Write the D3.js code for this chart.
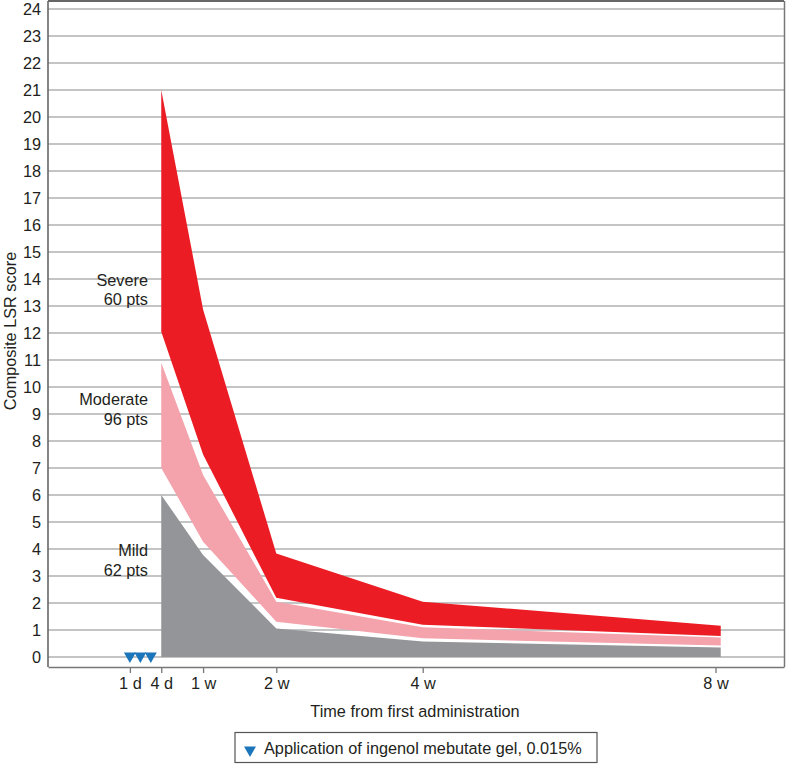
<!DOCTYPE html>
<html>
<head>
<meta charset="utf-8">
<script src="https://cdn.jsdelivr.net/npm/d3@7"></script>
<style>
  html, body { margin: 0; padding: 0; background: #fff; }
  svg { display: block; font-family: "Liberation Sans", Arial, Helvetica, sans-serif; }
</style>
</head>
<body>
<svg id="chart" width="786" height="766"></svg>
<script>
// ---- data ----
const tickLabels = ["1 d", "4 d", "1 w", "2 w", "4 w", "8 w"];
const tickDays = [1, 4, 8, 15, 29, 57];
const bandDays = [4, 8, 15, 29, 57.5];
const yTicks = d3.range(0, 25);

const mildLower = [0, 0, 0, 0, 0];
const mildUpper = [6.0, 3.78, 1.06, 0.57, 0.35];
const moderateLower = [7.0, 4.27, 1.31, 0.69, 0.43];
const moderateUpper = [10.9, 6.74, 2.05, 1.10, 0.72];
const severeLower = [12.05, 7.5, 2.19, 1.19, 0.78];
const severeUpper = [21.0, 12.87, 3.83, 2.05, 1.16];

const groupNames = ["Mild", "Moderate", "Severe"];
const groupCounts = ["62 pts", "96 pts", "60 pts"];
const applicationDays = [1, 2, 3];
const legendText = "Application of ingenol mebutate gel, 0.015%";

// ---- layout ----
const FS = 16.3;
const svg = d3.select("#chart");
const L = 48, R = 784, T = 1, B = 667;
const x = d3.scaleLinear().domain([-6.83, 63.55]).range([L, R]);
const y = d3.scaleLinear().domain([0, 24]).range([657, 9]);

// gridlines
svg.append("g").selectAll("line").data(yTicks).join("line")
  .attr("x1", L).attr("x2", R)
  .attr("y1", d => y(d)).attr("y2", d => y(d))
  .attr("stroke", "#b0b0b0").attr("stroke-width", 1.4);

// bands
const bands = [
  { lower: mildLower, upper: mildUpper, color: "#939598" },
  { lower: moderateLower, upper: moderateUpper, color: "#f4a2ac" },
  { lower: severeLower, upper: severeUpper, color: "#ec1c24" }
];
const area = d3.area()
  .x(d => x(d.day)).y0(d => y(d.lo)).y1(d => y(d.hi));
bands.forEach(b => {
  const pts = bandDays.map((day, i) => ({ day, lo: b.lower[i], hi: b.upper[i] }));
  svg.append("path").datum(pts).attr("d", area).attr("fill", b.color);
});

// frame
svg.append("line").attr("x1", L).attr("x2", R).attr("y1", T).attr("y2", T)
  .attr("stroke", "#333").attr("stroke-width", 1.5);
svg.append("line").attr("x1", R + 0.5).attr("x2", R + 0.5).attr("y1", T).attr("y2", B)
  .attr("stroke", "#777").attr("stroke-width", 1.5);

// y axis
const yAxis = d3.axisLeft(y).tickValues(yTicks).tickSize(0).tickPadding(7).tickFormat(d3.format("d"));
const gy = svg.append("g").attr("transform", `translate(${L},0)`).call(yAxis);
gy.select(".domain").remove();
gy.selectAll("text").attr("font-size", FS).attr("fill", "#231f20")
  .attr("font-family", "Liberation Sans, Arial, sans-serif");
svg.append("line").attr("x1", L).attr("x2", L).attr("y1", T).attr("y2", B)
  .attr("stroke", "#666").attr("stroke-width", 1.6);

// x axis
const xAxis = d3.axisBottom(x).tickValues(tickDays)
  .tickFormat((d, i) => tickLabels[i]).tickSize(6).tickSizeOuter(0).tickPadding(4);
const gx = svg.append("g").attr("transform", `translate(0,${B})`).call(xAxis);
gx.select(".domain").attr("stroke", "#777").attr("stroke-width", 1.6);
gx.selectAll(".tick line").attr("stroke", "#777").attr("stroke-width", 1.3);
gx.selectAll("text").attr("font-size", FS).attr("fill", "#231f20")
  .attr("font-family", "Liberation Sans, Arial, sans-serif");

// application markers
const tri = d3.symbol().type(d3.symbolTriangle).size(62);
svg.append("g").selectAll("path").data(applicationDays).join("path")
  .attr("d", tri)
  .attr("transform", d => `translate(${x(d)},${y(0) - 1}) rotate(180)`)
  .attr("fill", "#1b75bb");

// group labels
const labelPos = [
  { y1: 556, y2: 576 },
  { y1: 405, y2: 425 },
  { y1: 285.5, y2: 305 }
];
groupNames.forEach((n, i) => {
  const g = svg.append("g").attr("font-size", FS).attr("fill", "#231f20").attr("text-anchor", "end");
  g.append("text").attr("x", 148).attr("y", labelPos[i].y1).text(n);
  g.append("text").attr("x", 148).attr("y", labelPos[i].y2).text(groupCounts[i]);
});

// axis titles
svg.append("text")
  .attr("transform", "translate(15.5,331) rotate(-90)")
  .attr("text-anchor", "middle").attr("font-size", FS).attr("fill", "#231f20")
  .text("Composite LSR score");
svg.append("text")
  .attr("x", 415).attr("y", 717)
  .attr("text-anchor", "middle").attr("font-size", FS).attr("fill", "#231f20")
  .text("Time from first administration");

// legend
const lg = svg.append("g");
lg.append("rect").attr("x", 235).attr("y", 732.5).attr("width", 362).attr("height", 30)
  .attr("fill", "#fff").attr("stroke", "#555").attr("stroke-width", 1.2);
lg.append("path").attr("d", tri).attr("transform", "translate(250,750) rotate(180)").attr("fill", "#1b75bb");
lg.append("text").attr("x", 264).attr("y", 754).attr("font-size", FS).attr("fill", "#231f20")
  .text(legendText);
</script>
</body>
</html>
